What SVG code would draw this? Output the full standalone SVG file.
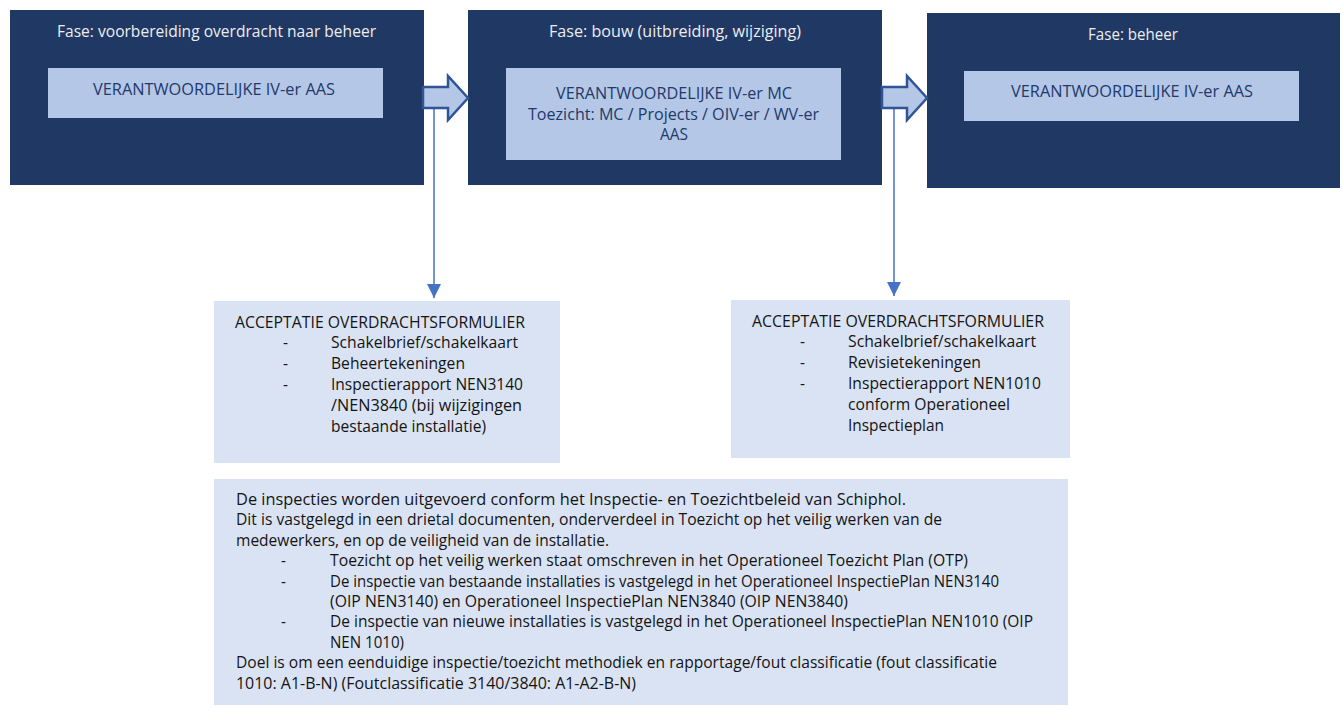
<svg xmlns="http://www.w3.org/2000/svg" width="1342" height="708" viewBox="0 0 1342 708">
  <defs>
    <style>
      text { font-family: "Open Sans", "Noto Sans", "Liberation Sans", sans-serif; font-size: 15.5px; }
      .phase { fill: #203864; }
      .role { fill: #B4C7E7; }
      .note { fill: #DAE3F3; }
      .title { fill: #EDEDED; text-anchor: middle; }
      .roletxt { fill: #22396A; text-anchor: middle; }
      .body { fill: #141414; }
      .flow { fill: #B4C7E7; stroke: #2F5597; stroke-width: 2.5; stroke-linejoin: miter; }
      .link { fill: none; stroke: #4472C4; stroke-width: 1.5; marker-end: url(#tri); }
    </style>
    <marker id="tri" viewBox="0 0 10 10" refX="10" refY="5" markerWidth="14" markerHeight="16" markerUnits="userSpaceOnUse" orient="auto">
      <path d="M0,0 L10,5 L0,10 z" fill="#4472C4"/>
    </marker>
  </defs>

  <rect width="1342" height="708" fill="#FFFFFF"/>

  <!-- phase: preparation of handover -->
  <g id="fase-voorbereiding">
    <rect class="phase" x="10" y="10" width="414" height="175"/>
    <text class="title" x="216.5" y="37" textLength="319" lengthAdjust="spacingAndGlyphs">Fase: voorbereiding overdracht naar beheer</text>
    <rect class="role" x="48" y="68" width="335" height="50"/>
    <text class="roletxt" x="214" y="95" textLength="242" lengthAdjust="spacingAndGlyphs">VERANTWOORDELIJKE IV-er AAS</text>
  </g>

  <!-- phase: construction -->
  <g id="fase-bouw">
    <rect class="phase" x="468" y="10" width="414" height="175"/>
    <text class="title" x="675" y="37" textLength="252" lengthAdjust="spacingAndGlyphs">Fase: bouw (uitbreiding, wijziging)</text>
    <rect class="role" x="506" y="68" width="335" height="92"/>
    <text class="roletxt" x="674" y="99" textLength="236" lengthAdjust="spacingAndGlyphs">VERANTWOORDELIJKE IV-er MC</text>
    <text class="roletxt" x="673.5" y="120" textLength="291" lengthAdjust="spacingAndGlyphs">Toezicht: MC / Projects / OIV-er / WV-er</text>
    <text class="roletxt" x="674" y="140">AAS</text>
  </g>

  <!-- phase: operation -->
  <g id="fase-beheer">
    <rect class="phase" x="927" y="13" width="413" height="175"/>
    <text class="title" x="1133" y="40" textLength="90" lengthAdjust="spacingAndGlyphs">Fase: beheer</text>
    <rect class="role" x="964" y="71" width="335" height="50"/>
    <text class="roletxt" x="1132" y="97" textLength="242" lengthAdjust="spacingAndGlyphs">VERANTWOORDELIJKE IV-er AAS</text>
  </g>

  <!-- handover form, existing installations -->
  <g id="acceptatie-beheer">
    <rect class="note" x="214" y="301" width="346" height="162"/>
    <text class="body" x="235" y="328" textLength="290" lengthAdjust="spacingAndGlyphs">ACCEPTATIE OVERDRACHTSFORMULIER</text>
    <text class="body" x="283" y="348">-</text>
    <text class="body" x="331" y="348" textLength="187" lengthAdjust="spacingAndGlyphs">Schakelbrief/schakelkaart</text>
    <text class="body" x="283" y="369">-</text>
    <text class="body" x="331" y="369" textLength="134" lengthAdjust="spacingAndGlyphs">Beheertekeningen</text>
    <text class="body" x="283" y="390">-</text>
    <text class="body" x="331" y="390" textLength="192" lengthAdjust="spacingAndGlyphs">Inspectierapport NEN3140</text>
    <text class="body" x="331" y="411" textLength="191" lengthAdjust="spacingAndGlyphs">/NEN3840 (bij wijzigingen</text>
    <text class="body" x="331" y="432" textLength="155" lengthAdjust="spacingAndGlyphs">bestaande installatie)</text>
  </g>

  <!-- handover form, new installations -->
  <g id="acceptatie-bouw">
    <rect class="note" x="731" y="300" width="339" height="158"/>
    <text class="body" x="752" y="327" textLength="292" lengthAdjust="spacingAndGlyphs">ACCEPTATIE OVERDRACHTSFORMULIER</text>
    <text class="body" x="800" y="347">-</text>
    <text class="body" x="848" y="347" textLength="188" lengthAdjust="spacingAndGlyphs">Schakelbrief/schakelkaart</text>
    <text class="body" x="800" y="368">-</text>
    <text class="body" x="848" y="368" textLength="133" lengthAdjust="spacingAndGlyphs">Revisietekeningen</text>
    <text class="body" x="800" y="389">-</text>
    <text class="body" x="848" y="389" textLength="193" lengthAdjust="spacingAndGlyphs">Inspectierapport NEN1010</text>
    <text class="body" x="848" y="410" textLength="162" lengthAdjust="spacingAndGlyphs">conform Operationeel</text>
    <text class="body" x="848" y="431" textLength="96" lengthAdjust="spacingAndGlyphs">Inspectieplan</text>
  </g>

  <!-- inspection policy note -->
  <g id="inspectiebeleid">
    <rect class="note" x="214" y="479" width="854" height="226"/>
    <text class="body" x="236" y="505" textLength="670" lengthAdjust="spacingAndGlyphs">De inspecties worden uitgevoerd conform het Inspectie- en Toezichtbeleid van Schiphol.</text>
    <text class="body" x="236" y="525.4" textLength="706" lengthAdjust="spacingAndGlyphs">Dit is vastgelegd in een drietal documenten, onderverdeel in Toezicht op het veilig werken van de</text>
    <text class="body" x="236" y="545.8" textLength="373" lengthAdjust="spacingAndGlyphs">medewerkers, en op de veiligheid van de installatie.</text>
    <text class="body" x="281" y="566.2">-</text>
    <text class="body" x="330" y="566.2" textLength="638" lengthAdjust="spacingAndGlyphs">Toezicht op het veilig werken staat omschreven in het Operationeel Toezicht Plan (OTP)</text>
    <text class="body" x="281" y="586.6">-</text>
    <text class="body" x="330" y="586.6" textLength="669" lengthAdjust="spacingAndGlyphs">De inspectie van bestaande installaties is vastgelegd in het Operationeel InspectiePlan NEN3140</text>
    <text class="body" x="330" y="607" textLength="518" lengthAdjust="spacingAndGlyphs">(OIP NEN3140) en Operationeel InspectiePlan NEN3840 (OIP NEN3840)</text>
    <text class="body" x="281" y="627.4">-</text>
    <text class="body" x="330" y="627.4" textLength="703" lengthAdjust="spacingAndGlyphs">De inspectie van nieuwe installaties is vastgelegd in het Operationeel InspectiePlan NEN1010 (OIP</text>
    <text class="body" x="330" y="647.8" textLength="74" lengthAdjust="spacingAndGlyphs">NEN 1010)</text>
    <text class="body" x="236" y="668.2" textLength="761" lengthAdjust="spacingAndGlyphs">Doel is om een eenduidige inspectie/toezicht methodiek en rapportage/fout classificatie (fout classificatie</text>
    <text class="body" x="236" y="688.6" textLength="400" lengthAdjust="spacingAndGlyphs">1010: A1-B-N) (Foutclassificatie 3140/3840: A1-A2-B-N)</text>
  </g>

  <!-- connectors -->
  <g id="connectors">
    <line class="link" x1="434" y1="108" x2="434" y2="298"/>
    <line class="link" x1="894" y1="108" x2="894" y2="296"/>
    <polygon class="flow" points="423,87 448,87 448,76 468,98 448,120 448,108 423,108"/>
    <polygon class="flow" points="882,87 907,87 907,76 927,98 907,120 907,108 882,108"/>
  </g>
</svg>
